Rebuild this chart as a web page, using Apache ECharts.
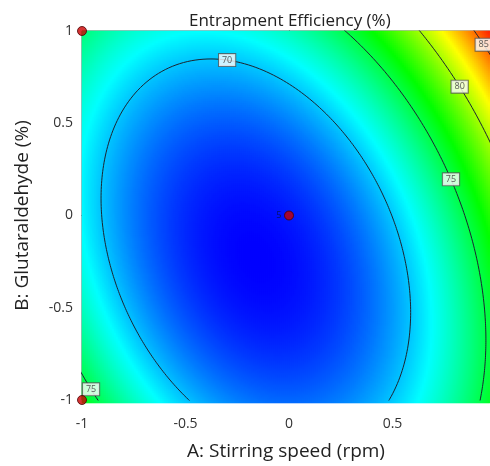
<!DOCTYPE html>
<html><head><meta charset="utf-8">
<script src="https://cdn.jsdelivr.net/npm/echarts@6/dist/echarts.min.js"></script>
<style>html,body{margin:0;padding:0;background:#fff}#c{width:490px;height:466px}</style>
</head><body><div id="c"></div>
<script>
// ---- chart data ----
const chartTitle = 'Entrapment Efficiency (%)';
const xName = 'A: Stirring speed (rpm)';
const yName = 'B: Glutaraldehyde (%)';
const xTicks = [-1, -0.5, 0, 0.5];
const yTicks = [-1, -0.5, 0, 0.5, 1];
const xVisibleMax = 0.971;   // the reference picture is cut at this A value
// quadratic response-surface model (coded factors)
const modelTerms = ['Intercept', 'A', 'B', 'AB', 'A^2', 'B^2'];
const modelCoef = [66.37, 3.30, 2.25, 3.30, 8.08, 3.99];
const contourLevels = [70, 75, 80, 85];
const labelLevels = [70, 85, 80, 75, 75];
const labelGuessA = [-0.30, 0.94, 0.826, 0.778, -0.965];
const labelGuessB = [0.85, 0.925, 0.70, 0.194, -0.95];
const designA = [-1, -1, 0, 1, 1];
const designB = [1, -1, 0, 1, -1];
const designReps = [1, 1, 5, 1, 1];
const colorStops = ['#0000ff', '#00ffff', '#00ff00', '#ffff00', '#ff0000'];
const colorRange = [65.86, 87.29];

// ---- helpers ----
const [c0, cA, cB, cAB, cAA, cBB] = modelCoef;
function model(a, b) { return c0 + cA*a + cB*b + cAB*a*b + cAA*a*a + cBB*b*b; }
const det = 4*cAA*cBB - cAB*cAB;
const A0 = (cAB*cB - 2*cBB*cA) / det;
const B0 = (cAB*cA - 2*cAA*cB) / det;
const Ymin = model(A0, B0);
function contourPoint(level, th) {
  const c = Math.cos(th), s = Math.sin(th);
  const q = cAA*c*c + cAB*c*s + cBB*s*s;
  const r = Math.sqrt((level - Ymin) / q);
  return [A0 + r*c, B0 + r*s];
}
function contour(level) {
  const pts = [];
  for (let i = 0; i <= 720; i++) pts.push(contourPoint(level, i/720*2*Math.PI));
  return pts;
}

const xMin = xTicks[0], yMin = yTicks[0], yMax = yTicks[yTicks.length - 1];
// heatmap grid: one cell per 2 px
const NX = 204, NY = 186;
const xCats = [], yCats = [], heat = [];
for (let i = 0; i < NX; i++) xCats.push(i);
for (let j = 0; j < NY; j++) yCats.push(j);
for (let i = 0; i < NX; i++) {
  const a = xMin + (i + 0.5) * (xVisibleMax - xMin) / NX;
  for (let j = 0; j < NY; j++) {
    const b = yMin + (j + 0.5) * (yMax - yMin) / NY;
    heat.push([i, j, model(a, b)]);
  }
}

const FONT = '"Open Sans", "Noto Sans", sans-serif';
const gridLayout = { left: 82, top: 31, right: 0, bottom: 63 };

const series = [{
  type: 'heatmap', xAxisIndex: 0, yAxisIndex: 0, data: heat,
  progressive: 0, emphasis: { disabled: true }, silent: true
}];
contourLevels.forEach(L => {
  series.push({
    type: 'line', xAxisIndex: 1, yAxisIndex: 1, data: contour(L),
    showSymbol: false, symbol: 'none', clip: true, smooth: false, z: 3,
    lineStyle: { color: '#1c2430', width: 1 }, silent: true
  });
});
const labelData = labelLevels.map((L, k) => {
  const th = Math.atan2(labelGuessB[k] - B0, labelGuessA[k] - A0);
  const p = contourPoint(L, th);
  return { value: [p[0], p[1]], name: String(L) };
});
series.push({
  type: 'scatter', xAxisIndex: 1, yAxisIndex: 1, data: labelData, z: 4,
  symbol: 'rect', symbolSize: 1, itemStyle: { color: 'rgba(0,0,0,0)' }, silent: true,
  label: {
    show: true, position: 'inside', formatter: p => p.name,
    fontSize: 9, fontFamily: FONT, color: '#333',
    backgroundColor: '#fff', borderColor: '#555', borderWidth: 1, padding: [2, 3, 1, 3]
  }
});
series.push({
  type: 'scatter', xAxisIndex: 1, yAxisIndex: 1, z: 5, symbolSize: 9, clip: false,
  data: designA.map((a, k) => [a, designB[k]]),
  itemStyle: { color: '#cc0000', borderColor: '#4a0000', borderWidth: 1 }
});
// replicate counts shown next to design points
series.push({
  type: 'scatter', xAxisIndex: 1, yAxisIndex: 1, z: 6, silent: true,
  symbol: 'rect', symbolSize: 1, itemStyle: { color: 'rgba(0,0,0,0)' },
  data: designA.map((a, k) => ({ value: [a, designB[k]], name: String(designReps[k]) }))
    .filter((d, k) => designReps[k] > 1),
  label: { show: true, position: 'left', distance: 7, formatter: p => p.name,
    fontSize: 9, fontFamily: FONT, color: '#0a1240' }
});

const chart = echarts.init(document.getElementById('c'), null, { renderer: 'canvas' });
chart.setOption({
  animation: false,
  backgroundColor: '#fff',
  title: {
    text: chartTitle, left: 184, top: 8,
    textStyle: { fontSize: 17, fontWeight: 'normal', color: '#222', fontFamily: FONT }
  },
  visualMap: {
    type: 'continuous', show: false, seriesIndex: 0, dimension: 2,
    min: colorRange[0], max: colorRange[1], inRange: { color: colorStops }
  },
  grid: [
    Object.assign({}, gridLayout),
    Object.assign({ show: true, borderColor: '#666', borderWidth: 1, backgroundColor: 'transparent' }, gridLayout)
  ],
  xAxis: [
    { type: 'category', gridIndex: 0, data: xCats, show: false },
    {
      type: 'value', gridIndex: 1, min: xMin, max: xVisibleMax, interval: 0.5,
      splitLine: { show: false },
      axisLine: { show: true, lineStyle: { color: '#333', width: 1 } },
      axisTick: { show: true, length: 6, lineStyle: { color: '#444' } },
      axisLabel: { fontSize: 14, color: '#333', margin: 17, fontFamily: FONT, showMaxLabel: false,
        formatter: v => (xTicks.indexOf(v) >= 0 ? String(v) : '') },
      name: xName, nameLocation: 'middle', nameGap: 42,
      nameTextStyle: { fontSize: 19, color: '#222', fontFamily: FONT }
    }
  ],
  yAxis: [
    { type: 'category', gridIndex: 0, data: yCats, show: false },
    {
      type: 'value', gridIndex: 1, min: yMin, max: yMax, interval: 0.5,
      splitLine: { show: false },
      axisLine: { show: true, lineStyle: { color: '#333', width: 1 } },
      axisTick: { show: true, length: 6, lineStyle: { color: '#444' } },
      axisLabel: { fontSize: 14, color: '#333', margin: 9, fontFamily: FONT },
      name: yName, nameLocation: 'middle', nameGap: 50,
      nameTextStyle: { fontSize: 19, color: '#222', fontFamily: FONT }
    }
  ],
  series: series
});
</script></body></html>
